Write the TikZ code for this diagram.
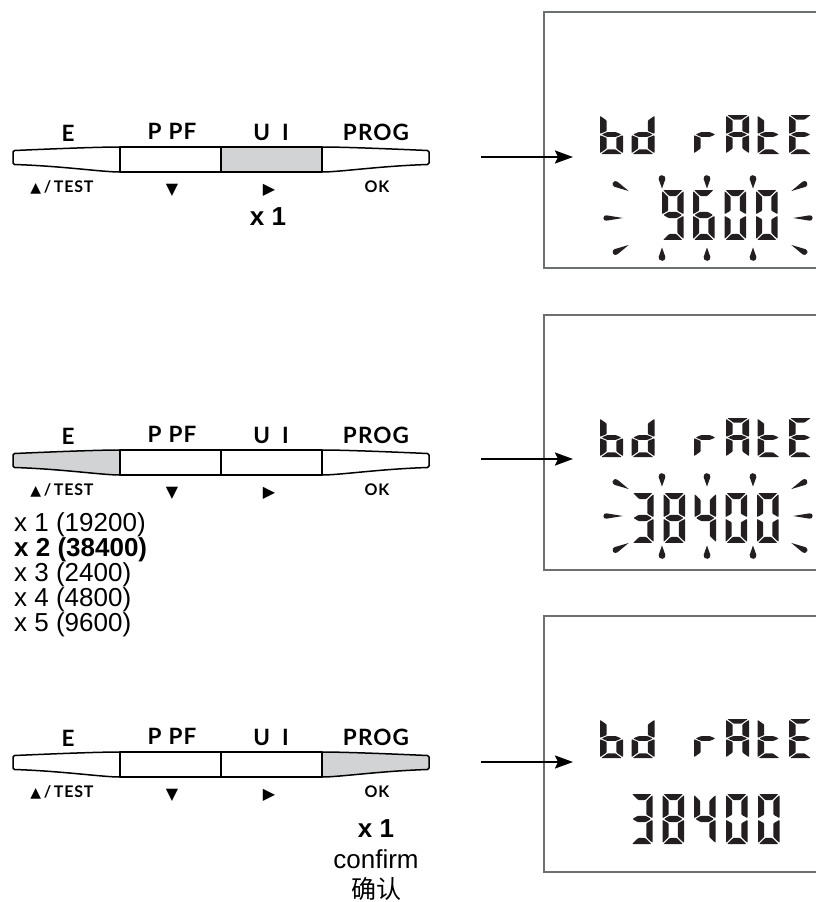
\documentclass[tikz,border=0pt]{standalone}
\usepackage{fontspec}
\setmainfont{Liberation Sans}
\newfontfamily\keyfont{Lato}[LetterSpace=5]
\newfontfamily\symfont{DejaVu Sans}
\newfontfamily\cjkfont{Noto Sans CJK SC}
\usetikzlibrary{arrows.meta}

\definecolor{barlit}{HTML}{D1D3D4}
\definecolor{lcdink}{HTML}{231F20}
\definecolor{boxline}{HTML}{6D6E71}

\tikzset{
  keytop/.style={font=\keyfont\bfseries\fontsize{22.5}{22.5}\selectfont, anchor=base, inner sep=0},
  keybot/.style={font=\keyfont\bfseries\fontsize{16}{16}\selectfont, anchor=base, inner sep=0},
  keyseg/.style={draw=black, line width=1.5pt, line join=round},
  lcdfill/.style={fill=lcdink, rounded corners=0.8pt},
  helv/.style={font=\fontsize{26}{26}\selectfont, inner sep=0},
  helvb/.style={font=\bfseries\fontsize{26}{26}\selectfont, inner sep=0},
  flow/.style={line width=2pt, -{Stealth[length=18pt,width=13pt,inset=3pt]}},
  lcdframe/.style={draw=boxline, line width=1.3pt},
}

% seven segment geometry in a 10 x 24 unit cell (y downwards)
\def\lcdsega{(0.5,0) -- (9.5,0) -- (6.6,2.9) -- (3.4,2.9) -- cycle}
\def\lcdsegb{(10,0.5) -- (7.1,3.4) -- (7.1,9.9) -- (10,11.6) -- cycle}
\def\lcdsegc{(10,12.4) -- (7.1,14.1) -- (7.1,20.6) -- (10,23.5) -- cycle}
\def\lcdsegd{(0.5,24) -- (9.5,24) -- (6.6,21.1) -- (3.4,21.1) -- cycle}
\def\lcdsege{(0,12.4) -- (2.9,14.1) -- (2.9,20.6) -- (0,23.5) -- cycle}
\def\lcdsegf{(0,0.5) -- (2.9,3.4) -- (2.9,9.9) -- (0,11.6) -- cycle}
\def\lcdsegg{(0.7,12) -- (3.0,10.55) -- (7.0,10.55) -- (9.3,12) -- (7.0,13.45) -- (3.0,13.45) -- cycle}

\newcommand\lcdchar[5]{%
  \begin{scope}[shift={(#1,#2)},xscale=#3,yscale=#4]
    \foreach \s in {#5}{\fill[lcdfill] \csname lcdseg\s\endcsname;}
  \end{scope}}
\newcommand\txtchar[3]{\lcdchar{#1}{#2}{2.3}{1.625}{#3}}
\newcommand\digchar[3]{\lcdchar{#1}{#2}{2.15}{2.083}{#3}}

\newcommand\lcdword[1]{% top y of the text row
  \txtchar{600}{#1}{f,e,g,d,c}
  \txtchar{631.5}{#1}{b,c,g,e,d}
  \txtchar{694}{#1}{e,g}
  \txtchar{726}{#1}{a,b,c,e,f,g}
  \txtchar{757.5}{#1}{f,e,g,d}
  \txtchar{789}{#1}{a,f,g,e,d}}

\newcommand\blip[5]{\fill[lcdink,shift={(#1,#2)},rotate=#3] (#4,0) -- (80:#5) arc[start angle=80,end angle=280,radius=#5] -- cycle;}
\newcommand\blinkset[1]{%
  \begin{scope}[shift={(0,#1)}]
    \foreach \bx in {662,707,753}{\blip{\bx}{178.5}{-90}{10}{3.4}\blip{\bx}{257.5}{90}{10}{3.4}}
    \blip{606}{218}{0}{17}{2.7}
    \blip{810}{218}{180}{17}{2.7}
    \blip{615.5}{184}{-28}{15}{3.0}
    \blip{615.5}{252}{28}{15}{3.0}
    \blip{804.5}{184}{208}{15}{3.0}
    \blip{804.5}{252}{152}{15}{3.0}
  \end{scope}}

\newcommand\keybar[3]{% #1 Y of bar top, #2 lit key, #3 name suffix
  \def\fa{white}\def\fb{white}\def\fc{white}\def\fd{white}%
  \ifcase#2\or\def\fa{barlit}\or\def\fb{barlit}\or\def\fc{barlit}\or\def\fd{barlit}\fi
  \begin{scope}[shift={(0,#1)}]
    \path[keyseg, fill=\fa] (120,0) .. controls (100,0) and (60,1.5) .. (14.5,3.5) -- (13,5) -- (13,16) -- (14.5,17.5) .. controls (62,19) and (102,25) .. (120,25) -- cycle;
    \path[keyseg, fill=\fb] (120,0) rectangle (221,25);
    \path[keyseg, fill=\fc] (221,0) rectangle (322,25);
    \path[keyseg, fill=\fd] (322,0) .. controls (342,0) and (382,1.5) .. (427.5,3.5) -- (429,5) -- (429,16) -- (427.5,17.5) .. controls (380,19) and (340,25) .. (322,25) -- cycle;
    \node[keytop] (kE#3) at (68,-6) {E};
    \node[keytop] (kP#3) at (172,-8) {P\hspace{7pt}PF};
    \node[keytop] (kU#3) at (271,-7) {U\hspace{12pt}I};
    \node[keytop] (kG#3) at (376,-7) {PROG};
    \node[keybot] (bE#3) at (62,45) {{\symfont\fontsize{14}{14}\selectfont ▲}\,/\,TEST};
    \node[keybot] (bP#3) at (172,47) {\symfont\fontsize{16}{16}\selectfont ▼};
    \node[keybot] (bU#3) at (269,47) {\symfont\fontsize{16}{16}\selectfont ▶};
    \node[keybot] (bG#3) at (377,45) {OK};
  \end{scope}}

\begin{document}
\begin{tikzpicture}[x=1pt,y=-1pt]
\useasboundingbox (0,0) rectangle (816,902);

% ---------- panel 1 ----------
\keybar{147}{3}{1}
\node[helvb, anchor=base] (n1) at (268,225) {x 1};
\coordinate (a1) at (481,157);
\coordinate (t1) at (573,157);
\draw[lcdframe] (816,12) -- (544,12) -- (544,268) -- (816,268);
\draw[flow] (a1) -- (t1);
\lcdword{115}
\digchar{662}{190}{a,b,c,d,f,g}
\digchar{693}{190}{a,c,d,e,f,g}
\digchar{724.5}{190}{a,b,c,d,e,f}
\digchar{756}{190}{a,b,c,d,e,f}
\blinkset{0}

% ---------- panel 2 ----------
\keybar{450}{1}{2}
\node[helv, anchor=base west] (l1) at (14,531) {x 1 (19200)};
\node[helvb, anchor=base west] (l2) at (14,556) {x 2 (38400)};
\node[helv, anchor=base west] (l3) at (14,581) {x 3 (2400)};
\node[helv, anchor=base west] (l4) at (14,606) {x 4 (4800)};
\node[helv, anchor=base west] (l5) at (14,631) {x 5 (9600)};
\coordinate (a2) at (481,459);
\coordinate (t2) at (573,459);
\draw[lcdframe] (816,315) -- (544,315) -- (544,570) -- (816,570);
\draw[flow] (a2) -- (t2);
\lcdword{418}
\digchar{632}{493}{a,b,c,d,g}
\digchar{663.5}{493}{a,b,c,d,e,f,g}
\digchar{694.5}{493}{b,c,f,g}
\digchar{725.5}{493}{a,b,c,d,e,f}
\digchar{757}{493}{a,b,c,d,e,f}
\blinkset{298}

% ---------- panel 3 ----------
\keybar{752}{4}{3}
\node[helvb, anchor=base] (n3) at (376,837) {x 1};
\node[helv, anchor=base] (c3) at (376,868) {confirm};
\node[inner sep=0, font=\cjkfont\fontsize{25}{25}\selectfont] (z3) at (376,889) {确认};
\coordinate (a3) at (481,762);
\coordinate (t3) at (573,762);
\draw[lcdframe] (816,616) -- (544,616) -- (544,872) -- (816,872);
\draw[flow] (a3) -- (t3);
\lcdword{719}
\digchar{631}{794}{a,b,c,d,g}
\digchar{662.5}{794}{a,b,c,d,e,f,g}
\digchar{694}{794}{b,c,f,g}
\digchar{726}{794}{a,b,c,d,e,f}
\digchar{758}{794}{a,b,c,d,e,f}
\end{tikzpicture}
\end{document}
